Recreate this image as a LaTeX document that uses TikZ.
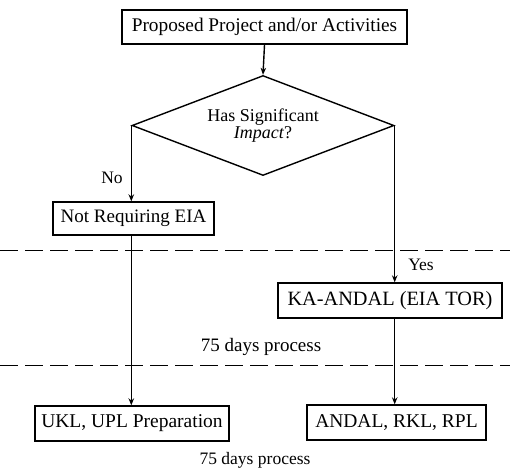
\documentclass[tikz,border=0pt]{standalone}
\usepackage{fontspec}
\setmainfont{Liberation Serif}
\usetikzlibrary{shapes.geometric,arrows.meta}
\newcommand{\fs}[1]{\fontsize{#1}{#1}\selectfont}
\begin{document}
\begin{tikzpicture}[x=1pt,y=-1pt,
  box/.style={draw,line width=1.4pt,inner sep=0pt,anchor=center},
  conn/.style={line width=1.4pt,-{Stealth[length=7pt,width=5.5pt]}},
  sep/.style={line width=1pt,dash pattern=on 18pt off 7pt},
  lbl/.style={inner sep=0pt}]
\useasboundingbox (0,0) rectangle (510,469);
\node[box,minimum width=285pt,minimum height=34pt,font=\fs{19.3}] (top) at (264.5,27) {Proposed Project and/or Activities};
\node[draw,line width=1.4pt,shape=diamond,aspect=2.61,minimum width=262pt,minimum height=100pt,inner sep=0pt,align=center,font=\fs{18}] (dec) at (263,125.5) {Has Significant\\[-1pt] \textit{Impact}?};
\node[box,minimum width=161pt,minimum height=33pt,font=\fs{19}] (nre) at (133.5,218.5) {Not Requiring EIA};
\node[box,minimum width=224pt,minimum height=35pt,font=\fs{20.3}] (ka) at (390,300.5) {KA-ANDAL (EIA TOR)};
\node[box,minimum width=194pt,minimum height=35pt,font=\fs{19.5}] (ukl) at (132,423.5) {UKL, UPL Preparation};
\node[box,minimum width=179pt,minimum height=35pt,font=\fs{19.5}] (andal) at (396.5,422.5) {ANDAL, RKL, RPL};
\node[lbl,font=\fs{17.5}] (no) at (112,178) {No};
\node[lbl,font=\fs{17.5}] (yes) at (421,265) {Yes};
\node[lbl,font=\fs{19}] (p1) at (261,347) {75 days process};
\node[lbl,font=\fs{17.5}] (p2) at (255,460) {75 days process};
\coordinate (l1a) at (0,250);
\coordinate (l1b) at (510,250);
\coordinate (l2a) at (0,365);
\coordinate (l2b) at (510,365);
\draw[sep] (l1a) -- (l1b);
\draw[sep] (l2a) -- (l2b);
\draw[conn] (top.south) -- (dec.north);
\draw[conn] (dec.west) -- (dec.west |- nre.north);
\draw[conn] (dec.west |- nre.south) -- (dec.west |- ukl.north);
\draw[conn] (dec.east) -- (dec.east |- ka.north);
\draw[conn] (dec.east |- ka.south) -- (dec.east |- andal.north);
\end{tikzpicture}
\end{document}
